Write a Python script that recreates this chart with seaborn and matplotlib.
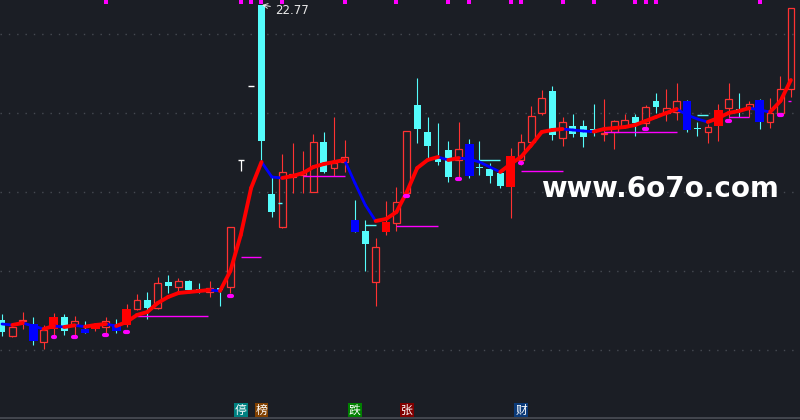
import numpy as np
import pandas as pd
import matplotlib
matplotlib.use("Agg")
import matplotlib.pyplot as plt
import seaborn as sns
from matplotlib.collections import LineCollection

# daily candles
opens = [
    13.32, 12.84, 13.29, 13.20, 12.66, 13.05, 13.41, 13.20, 13.05, 13.05,
    13.11, 13.20, 13.17, 13.65, 13.92, 13.68, 14.46, 14.31, 14.49, 14.25,
    14.16, 14.28, 14.31, 18.12, 20.34, 22.77, 17.10, 16.11, 17.61, 17.67,
    17.16, 18.66, 17.88, 18.06, 16.32, 15.99, 14.46, 15.96, 16.23, 17.13,
    19.77, 18.96, 18.21, 18.42, 18.12, 18.60, 17.91, 17.85, 17.73, 17.31,
    18.12, 18.66, 19.53, 20.19, 18.78, 19.14, 19.14, 19.05, 18.90, 18.96,
    19.11, 19.41, 19.23, 19.89, 19.53, 19.56, 19.89, 19.08, 18.96, 19.14,
    19.68, 19.65, 19.65, 19.92, 19.26, 19.53, 20.25]
highs = [
    13.50, 13.17, 13.56, 13.41, 13.17, 13.53, 13.50, 13.44, 13.29, 13.23,
    13.41, 13.35, 13.80, 14.10, 14.16, 14.61, 14.67, 14.58, 14.52, 14.43,
    14.49, 14.28, 16.11, 18.12, 20.34, 22.77, 17.61, 18.30, 18.63, 18.39,
    18.90, 18.96, 19.41, 18.72, 16.92, 16.32, 15.78, 16.89, 17.31, 18.99,
    20.58, 19.41, 19.23, 18.69, 19.26, 18.75, 18.69, 18.03, 17.79, 18.48,
    18.90, 19.74, 20.22, 20.34, 19.41, 19.50, 19.32, 19.80, 19.95, 19.32,
    19.50, 19.50, 19.77, 20.13, 20.25, 20.43, 19.92, 19.26, 19.20, 19.80,
    20.43, 20.13, 19.89, 19.95, 19.98, 20.64, 22.68]
lows = [
    12.84, 12.81, 13.05, 12.57, 12.45, 12.81, 12.87, 12.84, 12.93, 12.99,
    12.93, 12.93, 13.11, 13.62, 13.35, 13.65, 14.13, 14.16, 14.19, 14.13,
    14.01, 13.74, 14.13, 17.79, 20.34, 18.06, 16.41, 16.08, 17.13, 17.13,
    17.16, 17.73, 17.64, 17.76, 15.96, 14.79, 13.74, 15.87, 15.99, 17.01,
    18.63, 18.18, 17.97, 17.46, 17.61, 17.58, 17.67, 17.43, 17.28, 16.38,
    17.97, 18.51, 19.47, 18.72, 18.54, 18.81, 18.51, 18.84, 18.69, 18.45,
    19.08, 18.84, 19.11, 19.53, 19.29, 19.32, 18.96, 18.84, 18.63, 18.69,
    19.38, 19.41, 19.41, 19.05, 19.08, 19.47, 20.01]
closes = [
    12.96, 13.11, 13.32, 12.69, 13.02, 13.41, 12.99, 13.29, 12.93, 13.17,
    13.29, 12.99, 13.65, 13.92, 13.68, 14.43, 14.34, 14.49, 14.22, 14.16,
    14.28, 14.22, 16.11, 18.12, 20.34, 18.69, 16.56, 17.76, 17.70, 17.76,
    18.66, 17.76, 18.03, 18.21, 15.96, 15.60, 15.51, 16.26, 16.86, 18.99,
    19.05, 18.54, 18.06, 17.61, 18.45, 17.64, 17.88, 17.64, 17.34, 18.24,
    18.66, 19.44, 19.98, 18.87, 19.26, 18.90, 18.81, 18.93, 18.93, 19.29,
    19.32, 19.23, 19.71, 19.71, 19.68, 19.89, 19.02, 19.05, 19.11, 19.62,
    19.95, 19.62, 19.80, 19.26, 19.53, 20.25, 22.68]
# r = hollow red, R = solid red, c = cyan, b = solid blue, w = one-price bar
kinds = list("crrbrRcrbR" "rbRrcrcrcc" "rcrwwccrrr" "rcrrbcrRrr"
             "ccccrbcccR" "rrrcrcccrr" "rcrcrrbcrR" "rcrbrrr")
ma_line = [
    13.20, 13.17, 13.23, 13.14, 13.05, 13.14, 13.11, 13.16, 13.12, 13.17,
    13.20, 13.14, 13.26, 13.47, 13.56, 13.83, 14.01, 14.13, 14.16, 14.19,
    14.22, 14.19, 14.79, 15.87, 17.28, 18.06, 17.61, 17.58, 17.64, 17.73,
    17.91, 18.00, 18.06, 18.12, 17.43, 16.77, 16.29, 16.35, 16.56, 17.16,
    17.88, 18.12, 18.21, 18.12, 18.18, 18.15, 18.06, 17.91, 17.76, 18.00,
    18.21, 18.57, 18.96, 19.02, 19.05, 19.02, 18.99, 18.97, 19.05, 19.08,
    19.11, 19.17, 19.29, 19.41, 19.53, 19.65, 19.47, 19.35, 19.26, 19.38,
    19.53, 19.59, 19.68, 19.62, 19.56, 19.89, 20.52]

# magenta dots under candles
dot_idx = [5, 7, 10, 12, 22, 39, 44, 50, 62, 70, 75]
dot_val = [12.81, 12.81, 12.87, 12.96, 14.04, 17.04, 17.55, 18.03, 19.05, 19.29, 19.47]
# signal ticks along the top edge
top_idx = [10, 23, 24, 25, 27, 33, 38, 43, 45, 49, 50, 54, 57, 61, 62, 63, 73]
# magenta / cyan level lines
mag_start = [13, 23, 29, 38, 50, 58, 70, 75.7]
mag_end = [19.8, 25, 33, 42, 54, 65, 72, 76]
mag_val = [13.44, 15.21, 17.64, 16.14, 17.79, 18.97, 19.41, 19.88]
cy_start = [26.6, 35, 46, 67, 73.7]
cy_end = [27, 36, 48, 68, 74]
cy_val = [16.83, 16.17, 18.12, 19.47, 19.59]
# badges at the bottom
badge_idx = [23, 25, 34, 39, 50]
badge_text = ["停", "榜", "跌", "张", "财"]
badge_color = ["#008080", "#804000", "#008000", "#800000", "#0b3a78"]
grid_levels = [21.89, 19.52, 17.15, 14.78, 12.42]
high_label = "22.77"

bg = "#1b1e25"
RED = "#ff3232"
CYAN = "#54fcfc"
BLUE = "#0000ff"
MAG = "#ff00ff"

sns.set_style("dark", {"axes.facecolor": bg, "figure.facecolor": bg})
plt.rcParams["font.family"] = ["DejaVu Sans", "Noto Sans CJK SC"]

df = pd.DataFrame({"open": opens, "high": highs, "low": lows,
                   "close": closes, "kind": kinds, "ma": ma_line})
df["x"] = np.arange(len(df))

fig = plt.figure(figsize=(8, 4.2), dpi=100)
ax = fig.add_axes([0, 0, 1, 1])
ax.set_xlim(-0.193, 76.88)
ax.set_ylim(10.32, 22.92)

for g in grid_levels:
    ax.axhline(g, color="#464a52", lw=1, ls=(0, (1, 5)), zorder=1)
ax.axhline(10.39, color="#4a4e56", lw=1.2, zorder=1)

# wicks
for _, r in df.iterrows():
    top, bot = max(r.open, r.close), min(r.open, r.close)
    if r.kind == "r":
        ax.vlines(r.x, top, r.high, color=RED, lw=0.8, zorder=2)
        ax.vlines(r.x, r.low, bot, color=RED, lw=0.8, zorder=2)
    elif r.kind == "w":
        ax.vlines(r.x, r.low, r.high, color="white", lw=0.9, zorder=2)
        ax.hlines(r.open, r.x - 0.3, r.x + 0.3, color="white", lw=1, zorder=2)
    else:
        wc = RED if r.kind == "R" else CYAN
        ax.vlines(r.x, r.low, r.high, color=wc, lw=0.8, zorder=2)

# bodies
body = df[df.kind != "w"].copy()
body["bottom"] = body[["open", "close"]].min(axis=1)
body["height"] = (body.close - body.open).abs().clip(lower=0.03)
styles = {"r": dict(width=0.64, facecolor="none", edgecolor=RED, linewidth=0.9),
          "R": dict(width=0.85, color="#ff0000", linewidth=0),
          "c": dict(width=0.66, color=CYAN, linewidth=0),
          "b": dict(width=0.85, color=BLUE, linewidth=0)}
for k, st in styles.items():
    sub = body[body.kind == k]
    ax.bar(sub.x, sub.height, bottom=sub.bottom, zorder=3, **st)

# trend line, red when rising, blue when falling
pts = df[["x", "ma"]].to_numpy()
segs = np.stack([pts[:-1], pts[1:]], axis=1)
up = np.diff(df.ma.to_numpy()) > 0
ax.add_collection(LineCollection(segs[~up], colors=BLUE, linewidths=2.0,
                                 capstyle="round", zorder=4))
ax.add_collection(LineCollection(segs[up], colors="#ff0000", linewidths=2.8,
                                 capstyle="round", zorder=4))

# level lines
for s, e, v in zip(mag_start, mag_end, mag_val):
    ax.hlines(v, s, e, color=MAG, lw=1, zorder=3)
for s, e, v in zip(cy_start, cy_end, cy_val):
    ax.hlines(v, s, e, color=CYAN, lw=1, zorder=3)

# magenta dots
for i, v in zip(dot_idx, dot_val):
    ax.plot([i - 0.13, i + 0.13], [v, v], color=MAG, lw=3.0,
            solid_capstyle="round", zorder=5)

sns.scatterplot(x=top_idx, y=[22.87] * len(top_idx), marker="s", s=9,
                color=MAG, linewidth=0, ax=ax, legend=False, zorder=5)

ax.annotate(high_label, xy=(25.05, 22.77), xytext=(275 / 800, 1 - 10 / 420),
            textcoords="axes fraction", color="#e8e8e8", fontsize=8.5,
            va="center", ha="left",
            arrowprops=dict(arrowstyle="->", color="#e8e8e8", lw=0.7,
                            shrinkA=1, shrinkB=0))

for i, t, c in zip(badge_idx, badge_text, badge_color):
    ax.text(i, 10.62, t, color="white", fontsize=8.5, ha="center", va="center",
            family=["Noto Sans CJK SC", "DejaVu Sans"],
            bbox=dict(boxstyle="square,pad=0.08", fc=c, ec="none"), zorder=6)

ax.text(541 / 800, 1 - 189 / 420, "www.6o7o.com", transform=ax.transAxes,
        color="white", fontsize=20, fontweight="bold", ha="left", va="center",
        zorder=6)

ax.set_xticks([])
ax.set_yticks([])
for sp in ax.spines.values():
    sp.set_visible(False)

fig.savefig("out.png", dpi=100, facecolor=bg)
